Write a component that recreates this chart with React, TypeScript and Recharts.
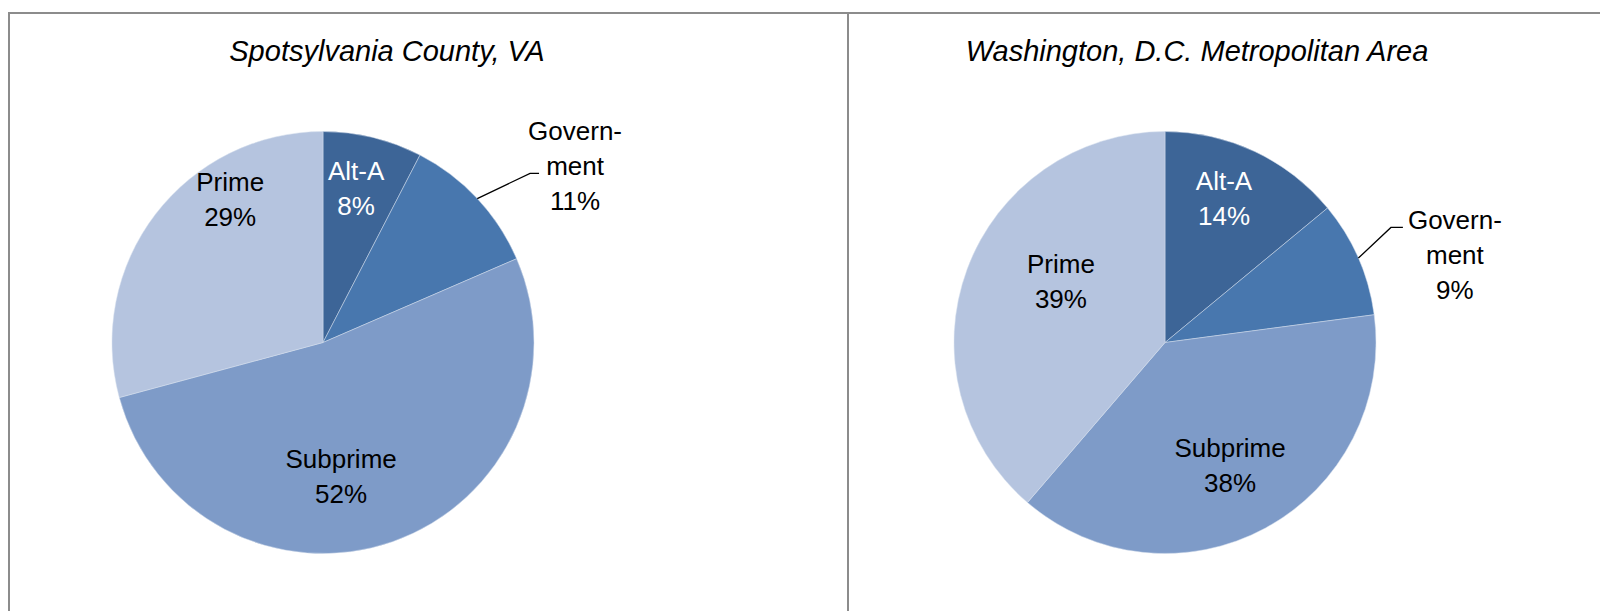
import { Cell, Pie, PieChart } from 'recharts';

// Dados
const categories = ['Alt-A', 'Government', 'Subprime', 'Prime'];
const labelLines = [['Alt-A'], ['Govern-', 'ment'], ['Subprime'], ['Prime']];
const spotsylvaniaShares = [7.6, 10.9, 52.3, 29.2];
const washingtonShares = [14.0, 8.9, 38.4, 38.7];
const chartTitles = ['Spotsylvania County, VA', 'Washington, D.C. Metropolitan Area'];

// Estilo
const sliceColors = ['#3d6597', '#4877ae', '#7e9bc8', '#b5c4df'];
const labelFont = '"Liberation Sans", Arial, sans-serif';
const RADIAN = Math.PI / 180;

// label anchors: [fraction of radius, degrees clockwise from 12 o'clock]
const spotLabelLayout = [[0.749, 12.1], [1.46, 54.9], [0.641, 172.3], [0.81, 327.1]];
const dcLabelLayout = [[0.737, 22.3], [1.436, 73.1], [0.659, 152.1], [0.573, 300.6]];
// leader line for the outside label, relative to the label centre
const spotLeader = { elbow: [-45, 8], end: [-36, 8] };
const dcLeader = { elbow: [-64, -27], end: [-52, -27] };

const toRows = (shares: number[]) => categories.map((name, i) => ({ name, value: shares[i] }));

const makeLabel = (layout: number[][], leader: { elbow: number[]; end: number[] }) => (props: any) => {
    const { cx, cy, outerRadius, index, percent, midAngle } = props;
    const [rf, deg] = layout[index];
    const x = cx + rf * outerRadius * Math.sin(deg * RADIAN);
    const y = cy - rf * outerRadius * Math.cos(deg * RADIAN);
    const lines = [...labelLines[index], `${Math.round(percent * 100)}%`];
    const n = lines.length;
    let path = null;
    if (rf > 1) {
        const sx = cx + outerRadius * Math.cos(-midAngle * RADIAN);
        const sy = cy + outerRadius * Math.sin(-midAngle * RADIAN);
        const d = `M${sx},${sy} L${x + leader.elbow[0]},${y + leader.elbow[1]} L${x + leader.end[0]},${y + leader.end[1]}`;
        path = <path d={d} stroke="#000" strokeWidth={1.3} fill="none" />;
    }
    return (
        <g key={`lbl-${index}`}>
            {path}
            <text x={x} y={y} textAnchor="middle" fill={index === 0 ? '#ffffff' : '#000000'} fontSize={26} fontFamily={labelFont}>
                {lines.map((l, i) => (
                    <tspan key={i} x={x} y={y + (i - (n - 1) / 2) * 35 + 9.3}>{l}</tspan>
                ))}
            </text>
        </g>
    );
};

const titleStyle = (cx: number): React.CSSProperties => ({
    position: 'absolute',
    left: cx - 400,
    width: 800,
    top: 37,
    textAlign: 'center',
    fontFamily: labelFont,
    fontStyle: 'italic',
    fontSize: 29,
    lineHeight: '29px',
    color: '#000',
});

const line = (left: number, top: number, width: number, height: number): React.CSSProperties => ({
    position: 'absolute', left, top, width, height, background: '#8c8c8c',
});

const App = () => {
    return (
        <div style={{ position: 'absolute', left: 0, top: 0, width: 1600, height: 611, overflow: 'hidden', background: '#fff' }}>
            <div style={line(8, 12, 1592, 2)} />
            <div style={line(8, 12, 2, 600)} />
            <div style={line(847, 12, 2, 600)} />
            <div style={titleStyle(387)}>{chartTitles[0]}</div>
            <div style={titleStyle(1197)}>{chartTitles[1]}</div>
            <div style={{ position: 'absolute', left: 0, top: 0 }}>
                <PieChart width={1600} height={611} margin={{ top: 0, right: 0, bottom: 0, left: 0 }}>
                    <Pie
                        data={toRows(spotsylvaniaShares)}
                        dataKey="value"
                        nameKey="name"
                        cx={323}
                        cy={342.5}
                        outerRadius={211}
                        startAngle={90}
                        endAngle={-270}
                        stroke="#d4deec"
                        strokeWidth={0.5}
                        label={makeLabel(spotLabelLayout, spotLeader)}
                        labelLine={false}
                        isAnimationActive={false}
                    >
                        {categories.map((c, i) => <Cell key={c} fill={sliceColors[i]} />)}
                    </Pie>
                    <Pie
                        data={toRows(washingtonShares)}
                        dataKey="value"
                        nameKey="name"
                        cx={1165}
                        cy={342.5}
                        outerRadius={211}
                        startAngle={90}
                        endAngle={-270}
                        stroke="#d4deec"
                        strokeWidth={0.5}
                        label={makeLabel(dcLabelLayout, dcLeader)}
                        labelLine={false}
                        isAnimationActive={false}
                    >
                        {categories.map((c, i) => <Cell key={c} fill={sliceColors[i]} />)}
                    </Pie>
                </PieChart>
            </div>
        </div>
    );
};

export default App;
